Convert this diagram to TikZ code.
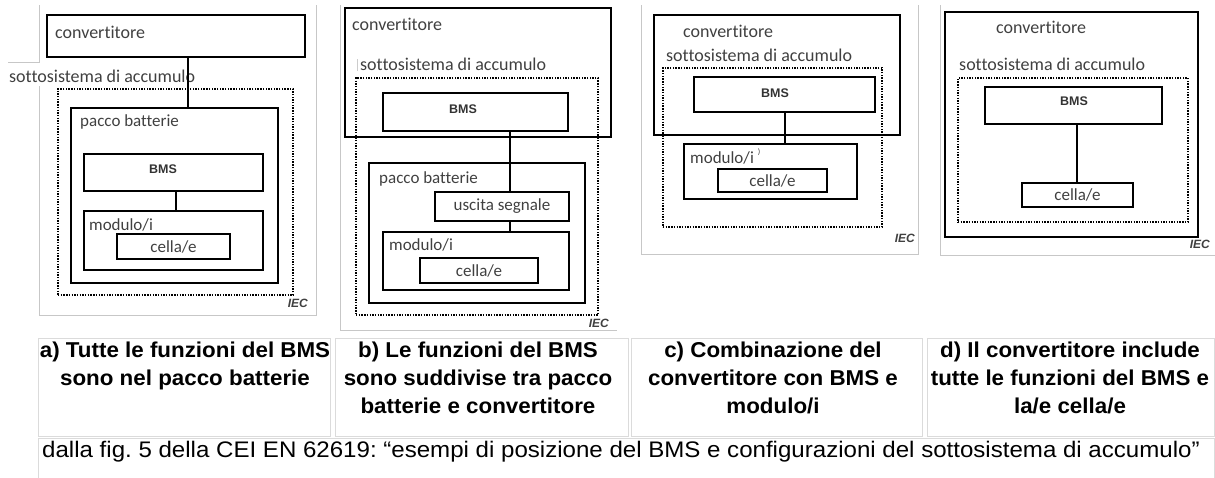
\documentclass[tikz,border=0pt]{standalone}
\usepackage{fontspec}
\setmainfont[Ligatures=NoCommon]{Carlito}
\newfontfamily\capfont[FakeStretch=1.04]{Liberation Sans}
\newfontfamily\botfont[FakeStretch=1.07]{Liberation Sans}
\newfontfamily\arialfont{Liberation Sans}
\usetikzlibrary{fit}
\frenchspacing
\begin{document}
\begin{tikzpicture}[x=1pt,y=-1pt,
  box/.style={draw=black, line width=2.6pt, inner sep=0pt, rectangle},
  dots/.style={draw=black, line width=2.6pt, dash pattern=on 1.4pt off 1.3pt, inner sep=0pt, rectangle},
  conn/.style={draw=black, line width=2.6pt},
  lbl/.style={font=\fontsize{17}{20}\selectfont, text=black!75, inner sep=0pt, anchor=base west},
  biglbl/.style={lbl, font=\fontsize{18}{20}\selectfont},
  bms/.style={font=\arialfont\bfseries\fontsize{12.5}{14}\selectfont, text=black!80, inner sep=0pt},
  ctext/.style={font=\fontsize{17}{20}\selectfont, text=black!75, inner sep=0pt},
  iec/.style={font=\arialfont\bfseries\itshape\fontsize{12}{14}\selectfont, text=black!75, inner sep=0pt, anchor=base east},
  frame/.style={draw=black!22, line width=0.9pt},
  capbox/.style={draw=black!14, line width=0.9pt},
  captxt/.style={font=\capfont\bfseries\fontsize{21.5}{28}\selectfont, align=center, inner sep=0pt, anchor=base},
  bot/.style={font=\botfont\fontsize{22.5}{26}\selectfont, inner sep=0pt, anchor=base west}]
\useasboundingbox (0,0) rectangle (1215,477);

% ---------- frames ----------
\draw[frame] (39,5) -- (39,62) -- (8,62);
\draw[frame] (39,86) -- (39,315) -- (316,315) -- (316,5);
\draw[frame] (340,5) -- (340,330) -- (617,330);
\draw[frame] (641,5) -- (641,254) -- (918,254) -- (918,5);
\draw[frame] (940,5) -- (940,255) -- (1215,255);

% ---------- panel a ----------
\node[box, fit={(47,15) (305,57)}] (convA) {};
\node[biglbl] (convAt) at (55,38) {convertitore};
\node[biglbl] (subAt) at (9,82) {sottosistema di accumulo};
\node[dots, fit={(58,89) (293,295)}] (subA) {};
\node[box, fit={(71,108) (278,283)}] (pacA) {};
\node[lbl] (pacAt) at (80,126) {pacco batterie};
\node[box, fit={(84,154) (263,191)}] (bmsA) {};
\node[bms] (bmsAt) at (163,169) {BMS};
\node[box, fit={(84,211) (263,270)}] (modA) {};
\node[lbl] (modAt) at (89,230) {modulo/i};
\node[box, fit={(117,234) (230,259)}] (cellA) {};
\node[ctext] (cellAt) at (cellA.center) {cella/e};
\node[iec] (iecA) at (308,307) {IEC};
\coordinate (kA) at (188,0);
\coordinate (lA) at (176,0);
\draw[conn] (convA.south -| kA) -- (pacA.north -| kA);
\draw[conn] (bmsA.south -| lA) -- (modA.north -| lA);

% ---------- panel b ----------
\node[box, fit={(345,8) (611,137)}] (convB) {};
\node[biglbl] (convBt) at (352,30) {convertitore};
\draw[black!20, line width=1pt] (357,59) -- (357,71);
\node[biglbl] (subBt) at (360,70) {sottosistema di accumulo};
\node[dots, fit={(356,78) (598,315)}] (subB) {};
\node[box, fit={(383,93) (568,131)}] (bmsB) {};
\node[bms] (bmsBt) at (463,109) {BMS};
\node[box, fit={(369,163) (585,303)}] (pacB) {};
\node[lbl] (pacBt) at (379,183) {pacco batterie};
\node[box, fit={(435,192) (569,221)}] (uscB) {};
\node[ctext] (uscBt) at (uscB.center) {uscita segnale};
\node[box, fit={(383,232) (569,290)}] (modB) {};
\node[lbl] (modBt) at (389,250) {modulo/i};
\node[box, fit={(420,258) (538,283)}] (cellB) {};
\node[ctext] (cellBt) at (cellB.center) {cella/e};
\node[iec] (iecB) at (609,327) {IEC};
\coordinate (kB) at (510,0);
\draw[conn] (bmsB.south -| kB) -- (uscB.north -| kB);
\draw[conn] (uscB.south -| kB) -- (modB.north -| kB);

% ---------- panel c ----------
\node[box, fit={(654,15) (900,135)}] (convC) {};
\node[biglbl] (convCt) at (683,37) {convertitore};
\node[biglbl] (subCt) at (666,61) {sottosistema di accumulo};
\node[dots, fit={(663,68) (882,227)}] (subC) {};
\node[box, fit={(694,77) (875,112)}] (bmsC) {};
\node[bms] (bmsCt) at (775,93) {BMS};
\node[box, fit={(684,144) (857,199)}] (modC) {};
\node[lbl] (modCt) at (690,163) {modulo/i};
\node[font=\fontsize{8}{9}\selectfont, text=black!75, inner sep=0pt] (parC) at (759,152) {)};
\node[box, fit={(718,169) (827,192)}] (cellC) {};
\node[ctext] (cellCt) at (cellC.center) {cella/e};
\node[iec] (iecC) at (915,242) {IEC};
\coordinate (kC) at (785,0);
\draw[conn] (bmsC.south -| kC) -- (modC.north -| kC);

% ---------- panel d ----------
\node[box, fit={(945,12) (1198,237)}] (convD) {};
\node[biglbl] (convDt) at (996,33) {convertitore};
\node[biglbl] (subDt) at (959,70) {sottosistema di accumulo};
\node[dots, fit={(958,78) (1188,222)}] (subD) {};
\node[box, fit={(985,87) (1162,124)}] (bmsD) {};
\node[bms] (bmsDt) at (1074,101) {BMS};
\node[box, fit={(1022,183) (1133,207)}] (cellD) {};
\node[ctext] (cellDt) at (cellD.center) {cella/e};
\node[iec] (iecD) at (1210,248) {IEC};
\coordinate (kD) at (1077,0);
\draw[conn] (bmsD.south -| kD) -- (cellD.north -| kD);

% ---------- captions ----------
\draw[capbox] (38,338) rectangle (330,436);
\draw[capbox] (335,338) rectangle (628,436);
\draw[capbox] (631,338) rectangle (922,436);
\draw[capbox] (927,338) rectangle (1214,436);
\draw[capbox] (38,480) -- (38,438) -- (1214,438) -- (1214,480);
\node[captxt] (capA) at (185,385) {a) Tutte le funzioni del BMS\\sono nel pacco batterie};
\node[captxt] (capB) at (478,413) {b) Le funzioni del BMS\\sono suddivise tra pacco\\batterie e convertitore};
\node[captxt] (capC) at (773,413) {c) Combinazione del\\convertitore con BMS e\\modulo/i};
\node[captxt] (capD) at (1070,413) {d) Il convertitore include\\tutte le funzioni del BMS e\\la/e cella/e};
\node[bot] (capE) at (42,457) {dalla fig. 5 della CEI EN 62619: “esempi di posizione del BMS e configurazioni del sottosistema di accumulo”};
\end{tikzpicture}
\end{document}
